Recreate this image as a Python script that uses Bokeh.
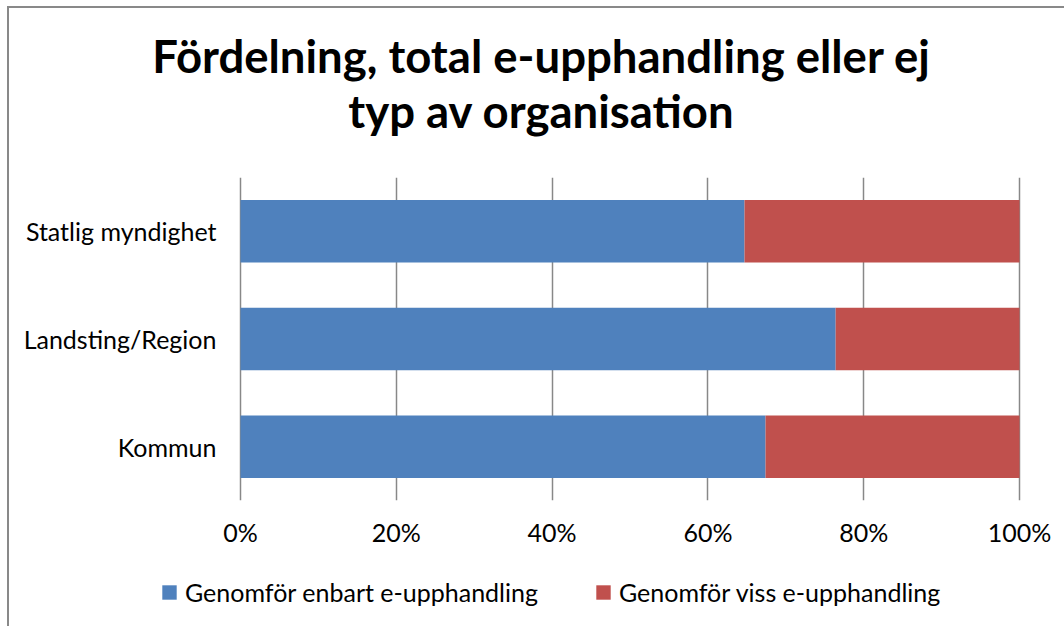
from bokeh.plotting import figure
from bokeh.layouts import column
from bokeh.models import FactorRange, Range1d, Label, Legend, LegendItem, NumeralTickFormatter, FixedTicker
from bokeh.embed import file_html
from bokeh.resources import INLINE

categories = ["Kommun", "Landsting/Region", "Statlig myndighet"]
enbart = [0.674, 0.764, 0.647]
viss = [0.326, 0.236, 0.353]
series_names = ["Genomför enbart e-upphandling", "Genomför viss e-upphandling"]
colors = ["#4F81BD", "#C0504D"]
ticks = [0, 0.2, 0.4, 0.6, 0.8, 1.0]
title_lines = ["Fördelning, total e-upphandling eller ej", "typ av organisation"]

FONT = "Lato"
W = 1055
H_TITLE, H_MAIN, H_LEG = 169, 383, 66
PAD = 2 / 779


def no_align(f):
    try:
        f.frame_align = False
    except Exception:
        pass


def blank(h):
    f = figure(width=W, height=h, output_backend="svg", toolbar_location=None,
               x_axis_type=None, y_axis_type=None, title=None,
               x_range=Range1d(0, 1), y_range=Range1d(0, 1),
               min_border_left=0, min_border_right=0, min_border_top=0, min_border_bottom=0)
    f.outline_line_color = None
    f.xgrid.visible = False
    f.ygrid.visible = False
    no_align(f)
    return f


# --- title ---
pt = blank(H_TITLE)
title_y = [122, 67]
for i, t in enumerate(title_lines):
    pt.add_layout(Label(x=532, y=title_y[i], x_units="screen", y_units="screen",
                        text=t, text_align="center", text_baseline="alphabetic",
                        text_font=FONT, text_font_style="bold", text_font_size="45.5px",
                        text_color="#000000"))

# --- main chart ---
p = figure(width=W, height=H_MAIN, output_backend="svg", toolbar_location=None, title=None,
           y_range=FactorRange(factors=categories, range_padding=0),
           x_range=Range1d(-PAD, 1 + PAD),
           min_border_left=229, min_border_right=43, min_border_top=0, min_border_bottom=60)
p.outline_line_color = None
no_align(p)

data = {"cat": categories, "a": enbart, "b": viss}
p.hbar_stack(["a", "b"], y="cat", height=0.58, color=colors, source=data, line_color=None)

p.xgrid.ticker = FixedTicker(ticks=ticks)
p.xgrid.grid_line_color = "#888888"
p.xgrid.grid_line_width = 1.5
p.ygrid.grid_line_color = None

for ax in (p.xaxis[0], p.yaxis[0]):
    ax.axis_line_color = None
    ax.major_tick_line_color = None
    ax.minor_tick_line_color = None
    ax.major_tick_out = 0
    ax.major_tick_in = 0
    ax.minor_tick_out = 0
    ax.major_label_text_font = FONT
    ax.major_label_text_font_size = "25px"
    ax.major_label_text_color = "#000000"

p.xaxis.ticker = FixedTicker(ticks=ticks)
p.xaxis.formatter = NumeralTickFormatter(format="0%")
p.xaxis.major_label_standoff = 16
p.yaxis.major_label_standoff = 22

# --- legend (swatch renderers sit outside the visible range) ---
pl = blank(H_LEG)
leg_r = [pl.hbar(y=[-5], right=[1], height=0.5, color=colors[i], line_color=None) for i in range(2)]
legend = Legend(items=[LegendItem(label=series_names[i], renderers=[leg_r[i]]) for i in range(2)],
                orientation="horizontal", location=(151, 19),
                glyph_width=18, glyph_height=18, label_standoff=7, spacing=56,
                label_text_font=FONT, label_text_font_size="25px", label_text_color="#000000",
                border_line_color=None, background_fill_alpha=0, padding=0, margin=0)
pl.add_layout(legend, "center")

layout = column(pt, p, pl, spacing=0,
                styles={"border-left": "2px solid #898989", "border-top": "2px solid #898989",
                        "margin-left": "7px", "margin-top": "6px"})

open("out.html", "w").write(file_html(layout, INLINE))
